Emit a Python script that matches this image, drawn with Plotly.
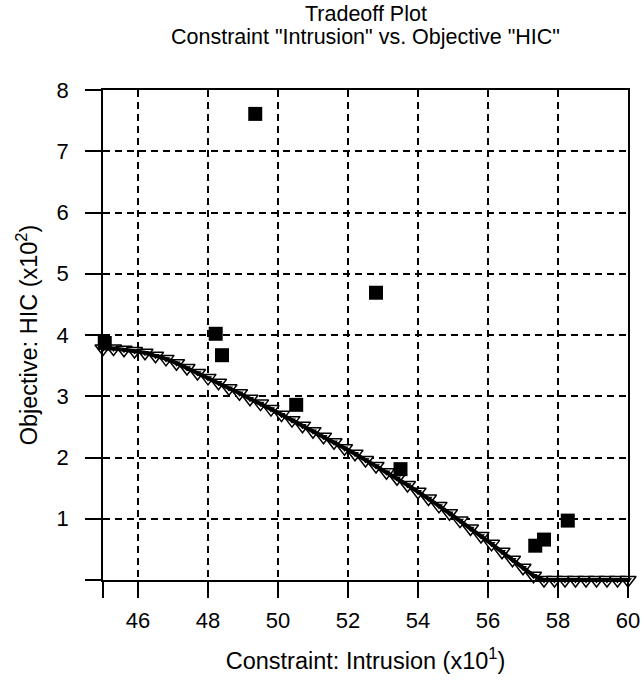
import plotly.graph_objects as go

# Design points (filled squares)
pts_x = [45.05, 48.22, 48.4, 49.35, 50.52, 52.8, 53.5, 57.35, 57.6, 58.28]
pts_y = [3.87, 4.02, 3.67, 7.61, 2.86, 4.69, 1.81, 0.56, 0.66, 0.97]

# Tradeoff curve (open down-triangles)
curve_x = [45.0, 45.3, 45.6, 45.9, 46.2, 46.5, 46.8, 47.1, 47.4, 47.7,
           48.0, 48.3, 48.6, 48.9, 49.2, 49.5, 49.8, 50.1, 50.4, 50.7,
           51.0, 51.3, 51.6, 51.9, 52.2, 52.5, 52.8, 53.1, 53.4, 53.7,
           54.0, 54.3, 54.6, 54.9, 55.2, 55.5, 55.8, 56.1, 56.4, 56.7,
           57.0, 57.3, 57.6, 57.9, 58.2, 58.5, 58.8, 59.1, 59.4, 59.7, 60.0]
curve_y = [3.78, 3.78, 3.76, 3.74, 3.71, 3.66, 3.61, 3.54, 3.46, 3.38,
           3.30, 3.22, 3.13, 3.05, 2.96, 2.88, 2.79, 2.70, 2.61, 2.52,
           2.43, 2.34, 2.25, 2.15, 2.06, 1.96, 1.86, 1.76, 1.66, 1.55,
           1.44, 1.33, 1.21, 1.09, 0.97, 0.84, 0.72, 0.59, 0.46, 0.33,
           0.20, 0.07, 0.0, 0.0, 0.0, 0.0, 0.0, 0.0, 0.0, 0.0, 0.0]

x_ticks = [45, 46, 48, 50, 52, 54, 56, 58, 60]
x_labels = ["", "46", "48", "50", "52", "54", "56", "58", "60"]
y_ticks = [0, 1, 2, 3, 4, 5, 6, 7, 8]
y_labels = ["", "1", "2", "3", "4", "5", "6", "7", "8"]

title_lines = ["Tradeoff Plot", "Constraint \"Intrusion\" vs. Objective \"HIC\""]

font = "Liberation Sans, Arial, Helvetica, sans-serif"

fig = go.Figure()

fig.add_trace(go.Scatter(
    x=curve_x, y=curve_y, mode="markers", cliponaxis=False,
    marker=dict(symbol="triangle-down", size=14, color="white",
                line=dict(color="black", width=1.5)),
    showlegend=False))

fig.add_trace(go.Scatter(
    x=curve_x, y=curve_y, mode="lines+markers", cliponaxis=False,
    line=dict(color="black", width=4),
    marker=dict(symbol="triangle-down", size=7, color="black"),
    showlegend=False))

fig.add_trace(go.Scatter(
    x=pts_x, y=pts_y, mode="markers", cliponaxis=False,
    marker=dict(symbol="square", size=14, color="black"),
    showlegend=False))

axis_common = dict(
    showline=True, linecolor="black", linewidth=1.5, mirror=True,
    ticks="outside", ticklen=16, tickwidth=1.5, tickcolor="black",
    showgrid=True, gridcolor="black", gridwidth=1.5, griddash="7px,5px",
    zeroline=False, tickfont=dict(size=22, color="black", family=font),
)

fig.update_xaxes(range=[45, 60], tickvals=x_ticks, ticktext=x_labels,
                 ticklabelstandoff=4,
                 title=dict(text="Constraint: Intrusion (x10<sup>1</sup>)",
                            font=dict(size=23.5, color="black", family=font),
                            standoff=20),
                 **axis_common)
fig.update_yaxes(range=[0, 8], tickvals=y_ticks, ticktext=y_labels,
                 ticklabelstandoff=12,
                 title=dict(text="Objective: HIC (x10<sup>2</sup>)",
                            font=dict(size=23.5, color="black", family=font),
                            standoff=12),
                 **axis_common)

# two title lines placed separately for tight line spacing
for txt, yy in zip(title_lines, [1.155, 1.108]):
    fig.add_annotation(text=txt, x=0.5, y=yy, xref="paper", yref="paper",
                       xanchor="center", yanchor="middle", showarrow=False,
                       font=dict(size=21.5, color="black", family=font))

fig.update_layout(
    width=642, height=686,
    margin=dict(l=103, r=14, t=90, b=106, autoexpand=False),
    paper_bgcolor="white", plot_bgcolor="white",
    font=dict(family=font, color="black"),
)

# drop the default page margin so the figure sits at the window corner
fig.write_html("out.html", config={"displayModeBar": False},
               post_script="document.body.style.margin='0';")
